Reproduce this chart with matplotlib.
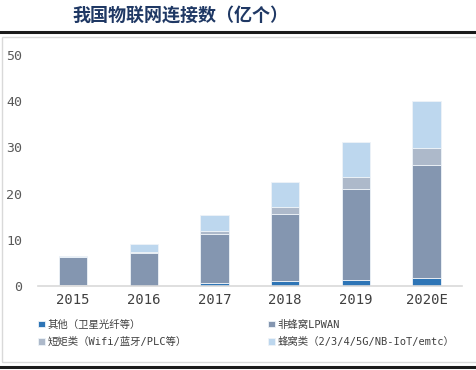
import matplotlib
matplotlib.use("Agg")
import matplotlib.pyplot as plt
import numpy as np
from matplotlib.lines import Line2D
from matplotlib.patches import Rectangle

years = ["2015", "2016", "2017", "2018", "2019", "2020E"]
other = [0.3, 0.1, 0.7, 1.1, 1.4, 1.8]
lpwan = [5.9, 7.1, 10.5, 14.5, 19.7, 24.4]
short_range = [0.0, 0.1, 0.7, 1.6, 2.6, 3.7]
cellular = [0.2, 1.8, 3.4, 5.3, 7.5, 10.1]

series = [
    ("其他（卫星光纤等）", other, "#2E75B6"),
    ("非蜂窝LPWAN", lpwan, "#8496B0"),
    ("短矩类（Wifi/蓝牙/PLC等）", short_range, "#ADB9CA"),
    ("蜂窝类（2/3/4/5G/NB-IoT/emtc）", cellular, "#BDD7EE"),
]

fonts = ["DejaVu Sans Mono", "Noto Sans CJK SC"]
plt.rcParams["font.family"] = fonts

W, H = 477, 370
fig = plt.figure(figsize=(W / 100, H / 100), dpi=100)

# decoration: title, black rules, gray frame
fig.text(180 / W, 1 - 15 / H, "我国物联网连接数（亿个）", ha="center", va="center",
         fontsize=13, fontweight="bold", color="#1F3864", family="Noto Sans CJK SC")
fig.add_artist(Line2D([0, 1], [1 - 32 / H, 1 - 32 / H], color="#1a1a1a", lw=2.2))
fig.add_artist(Line2D([0, 1], [1 - 367 / H, 1 - 367 / H], color="#1a1a1a", lw=2.2))
fig.add_artist(Rectangle((1.5 / W, 1 - 362 / H), 1, (362 - 37) / H, fill=False,
                         edgecolor="#D9D9D9", lw=1.0))

ax = fig.add_axes([37.6 / W, 1 - 286 / H, (462 - 37.6) / W, (286 - 55) / H])
x = np.arange(len(years))
bottom = np.zeros(len(years))
handles = []
for label, vals, color in series:
    b = ax.bar(x, vals, 0.4, bottom=bottom, color=color, edgecolor="#EEF3F8",
               linewidth=0.6, label=label)
    bottom += np.array(vals)
    handles.append(b)

ax.set_xlim(-0.5, len(years) - 0.5)
ax.set_ylim(0, 50)
ax.set_yticks([0, 10, 20, 30, 40, 50])
ax.set_xticks(x)
ax.set_xticklabels(years)
for s in ["top", "right", "left"]:
    ax.spines[s].set_visible(False)
ax.spines["bottom"].set_color("#D9D9D9")
ax.spines["bottom"].set_linewidth(1.2)
ax.tick_params(axis="y", length=0, pad=11, labelsize=9.5, labelcolor="#595959")
ax.tick_params(axis="x", length=0, pad=5, labelsize=10, labelcolor="#404040")

order = [0, 2, 1, 3]
leg = fig.legend([handles[i] for i in order], [series[i][0] for i in order],
                 loc="upper left", bbox_to_anchor=(29 / W, 1 - 310 / H), ncol=2,
                 frameon=False, fontsize=7.5, handlelength=0.6, handleheight=0.6,
                 handletextpad=0.3, columnspacing=7.8, labelspacing=0.7)
for t in leg.get_texts():
    t.set_color("#404040")

fig.savefig("out.png", dpi=100)
